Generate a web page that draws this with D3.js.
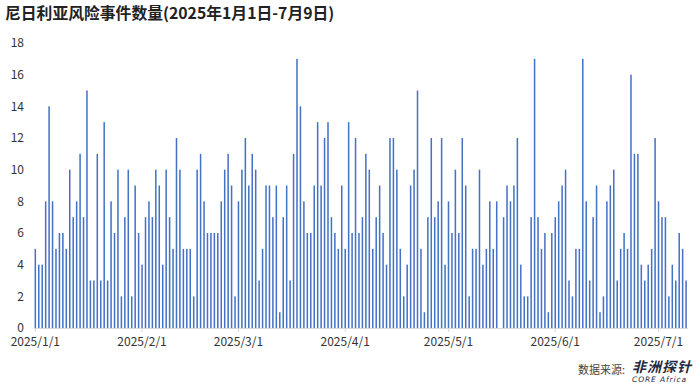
<!DOCTYPE html>
<html>
<head>
<meta charset="utf-8">
<script src="https://cdn.jsdelivr.net/npm/d3@7"></script>
<style>
  body { margin: 0; background: #fff; }
  svg { display: block; font-family: "Noto Sans CJK SC", "Noto Sans", sans-serif; }
</style>
</head>
<body>
<svg id="chart" width="700" height="388"></svg>
<script>
// daily counts, 2025-01-01 .. 2025-07-09
var startDate = new Date(2025, 0, 1);
var counts = [
    5,4,4,8,14,8,5,6,6,5,10,7,8,11,7,15,
    3,3,11,3,13,3,8,6,10,2,7,10,2,9,6,4,7,8,
    7,10,9,4,10,7,5,12,10,5,5,5,2,10,11,8,6,6,6,6,
    8,10,11,9,2,8,10,12,9,11,10,3,5,9,9,7,9,1,7,
    9,3,11,17,14,8,6,6,9,13,9,12,13,7,6,5,9,5,13,
    6,12,6,7,11,10,5,7,9,6,4,12,12,10,5,2,4,9,10,
    15,5,1,7,12,7,8,12,4,8,6,10,6,12,9,2,5,5,10,
    4,5,8,5,8,0,7,9,8,9,12,4,2,2,7,17,7,5,6,
    1,6,7,8,9,10,3,2,5,5,17,8,3,7,9,1,2,8,9,
    10,3,5,6,5,16,11,11,4,3,4,5,12,8,7,7,2,4,3,6,5,3
];
var monthTicks = ["2025/1/1", "2025/2/1", "2025/3/1", "2025/4/1", "2025/5/1", "2025/6/1", "2025/7/1"];
var yTicks = [0, 2, 4, 6, 8, 10, 12, 14, 16, 18];

var svg = d3.select('#chart');
var fmt = d3.timeFormat('%Y/%-m/%-d');

var records = counts.map((v, i) => ({ day: fmt(d3.timeDay.offset(startDate, i)), value: v }));

var x = d3.scaleBand()
    .domain(records.map((d) => d.day))
    .range([33.6, 687.8])
    .paddingInner(0.56)
    .paddingOuter(0.28);

var y = d3.scaleLinear().domain([0, 18]).range([328, 43]);

// title
svg.append('text')
    .attr('x', 5).attr('y', 19)
    .style('font-size', '15.8px').style('font-weight', 'bold').style('fill', '#222')
    .text('尼日利亚风险事件数量(2025年1月1日-7月9日)');

// y axis labels
svg.append('g')
    .selectAll('text')
    .data(yTicks)
    .enter().append('text')
    .attr('x', 24)
    .attr('y', (d) => y(d))
    .attr('dy', '0.35em')
    .attr('text-anchor', 'end')
    .style('font-size', '12px').style('fill', '#333')
    .text((d) => d);

// bars
svg.append('g')
    .selectAll('rect')
    .data(records)
    .enter().append('rect')
    .attr('x', (d) => x(d.day))
    .attr('width', x.bandwidth())
    .attr('y', (d) => y(d.value))
    .attr('height', (d) => y(0) - y(d.value))
    .style('fill', '#4472c4');

// x axis
var xAxis = d3.axisBottom(x)
    .tickValues(monthTicks)
    .tickSize(4)
    .tickSizeOuter(0)
    .tickPadding(5);

var gx = svg.append('g')
    .attr('transform', 'translate(0,' + y(0) + ')')
    .call(xAxis);
gx.select('.domain').attr('stroke', '#d9d9d9').attr('d', 'M33.6,0.5H687.8');
gx.selectAll('.tick line').attr('stroke', '#d9d9d9');
gx.selectAll('.tick text')
    .style('font-size', '12px').style('fill', '#333')
    .style('font-family', '"Noto Sans CJK SC", "Noto Sans", sans-serif');

// source + logo
svg.append('text')
    .attr('x', 578).attr('y', 374)
    .style('font-size', '11px').style('fill', '#444')
    .text('数据来源:');

svg.append('text')
    .attr('x', 632).attr('y', 372)
    .style('font-size', '14px').style('font-weight', 'bold').style('font-style', 'italic')
    .style('fill', '#1f2a44').style('letter-spacing', '1px')
    .text('非洲探针');

svg.append('circle')
    .attr('cx', 669).attr('cy', 370).attr('r', 1.6)
    .style('fill', '#f0a030');

svg.append('text')
    .attr('x', 632).attr('y', 382)
    .style('font-size', '7.5px').style('font-style', 'italic')
    .style('fill', '#1f2a44').style('letter-spacing', '0.9px')
    .style('font-family', '"DejaVu Sans", sans-serif')
    .text('CORE Africa');
</script>
</body>
</html>
